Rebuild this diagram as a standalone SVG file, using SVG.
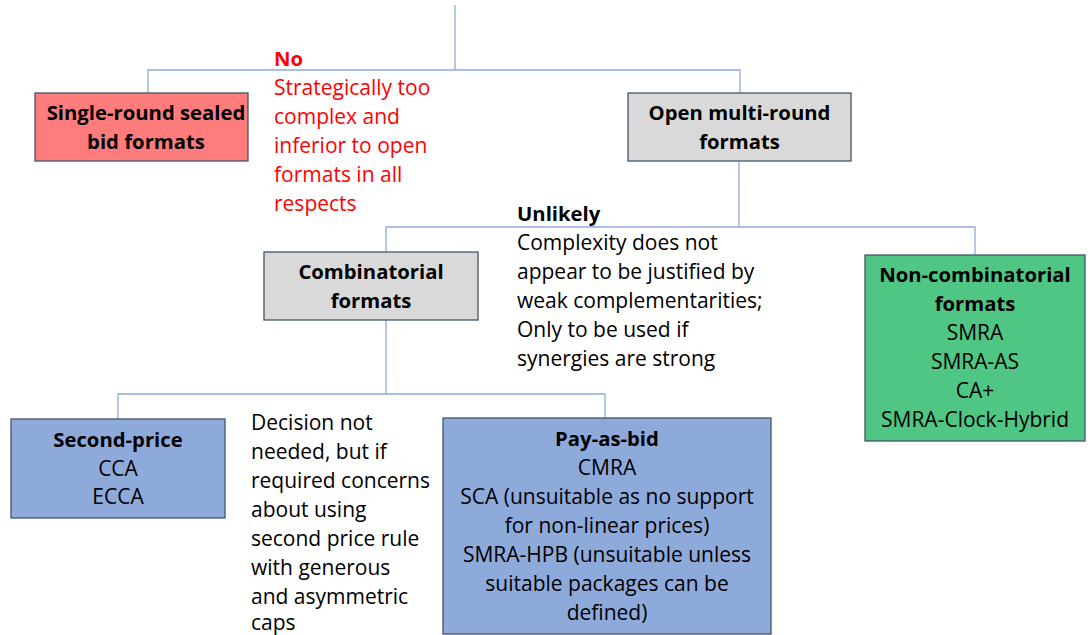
<svg xmlns="http://www.w3.org/2000/svg" width="1090" height="635" viewBox="0 0 1090 635">
<style>
text{font-family:"Open Sans",Lato,sans-serif;font-size:21px;fill:#000}
.b{font-weight:bold;font-size:20.3px}
.c{text-anchor:middle}
.red{fill:#ff0000}
.box{stroke:#44546a;stroke-width:1.3}
.conn{fill:none;stroke:#8faadc;stroke-width:1.3}
</style>
<rect width="1090" height="635" fill="#fff"/>
<g id="connectors" class="conn">
<path d="M455,5 V70"/>
<path d="M148,93 V70 H740 V93"/>
<path d="M739,161 V227"/>
<path d="M386,252 V227 H975 V255"/>
<path d="M386,320 V394"/>
<path d="M118,419 V394 H605 V418"/>
</g>
<g id="single-round">
<rect class="box" x="35" y="93" width="213" height="68" fill="#ff7c7c"/>
<text class="b c" x="146" y="120">Single-round sealed</text>
<text class="b c" x="146" y="149">bid formats</text>
</g>
<g id="open-multi-round">
<rect class="box" x="628" y="93" width="223" height="68" fill="#d9d9d9"/>
<text class="b c" x="739.5" y="120">Open multi-round</text>
<text class="b c" x="739.5" y="149">formats</text>
</g>
<g id="no-note">
<text class="b red" x="274" y="66">No</text>
<text class="red" x="274" y="95">Strategically too</text>
<text class="red" x="274" y="124">complex and</text>
<text class="red" x="274" y="153">inferior to open</text>
<text class="red" x="274" y="182">formats in all</text>
<text class="red" x="274" y="211">respects</text>
</g>
<g id="unlikely-note">
<text class="b" x="517" y="221">Unlikely</text>
<text x="517" y="250">Complexity does not</text>
<text x="517" y="279">appear to be justified by</text>
<text x="517" y="308">weak complementarities;</text>
<text x="517" y="337">Only to be used if</text>
<text x="517" y="366">synergies are strong</text>
</g>
<g id="combinatorial">
<rect class="box" x="264" y="252" width="214" height="68" fill="#d9d9d9"/>
<text class="b c" x="371" y="279">Combinatorial</text>
<text class="b c" x="371" y="308">formats</text>
</g>
<g id="non-combinatorial">
<rect class="box" x="865" y="255" width="220" height="186" fill="#50c684"/>
<text class="b c" x="975" y="282">Non-combinatorial</text>
<text class="b c" x="975" y="311">formats</text>
<text class="c" x="975" y="340">SMRA</text>
<text class="c" x="975" y="369">SMRA-AS</text>
<text class="c" x="975" y="398">CA+</text>
<text class="c" x="975" y="427">SMRA-Clock-Hybrid</text>
</g>
<g id="second-price">
<rect class="box" x="11" y="419" width="214" height="99" fill="#8eaadb"/>
<text class="b c" x="118" y="447">Second-price</text>
<text class="c" x="118" y="476">CCA</text>
<text class="c" x="118" y="504">ECCA</text>
</g>
<g id="decision-note">
<text x="251" y="430">Decision not</text>
<text x="251" y="459">needed, but if</text>
<text x="251" y="488">required concerns</text>
<text x="251" y="517">about using</text>
<text x="251" y="546">second price rule</text>
<text x="251" y="575">with generous</text>
<text x="251" y="604">and asymmetric</text>
<text x="251" y="630">caps</text>
</g>
<g id="pay-as-bid">
<rect class="box" x="443" y="418" width="328" height="216" fill="#8eaadb"/>
<text class="b c" x="607" y="446">Pay-as-bid</text>
<text class="c" x="607" y="475">CMRA</text>
<text class="c" x="607" y="504">SCA (unsuitable as no support</text>
<text class="c" x="607" y="533">for non-linear prices)</text>
<text class="c" x="607" y="562">SMRA-HPB (unsuitable unless</text>
<text class="c" x="607" y="591">suitable packages can be</text>
<text class="c" x="607" y="620">defined)</text>
</g>
</svg>
